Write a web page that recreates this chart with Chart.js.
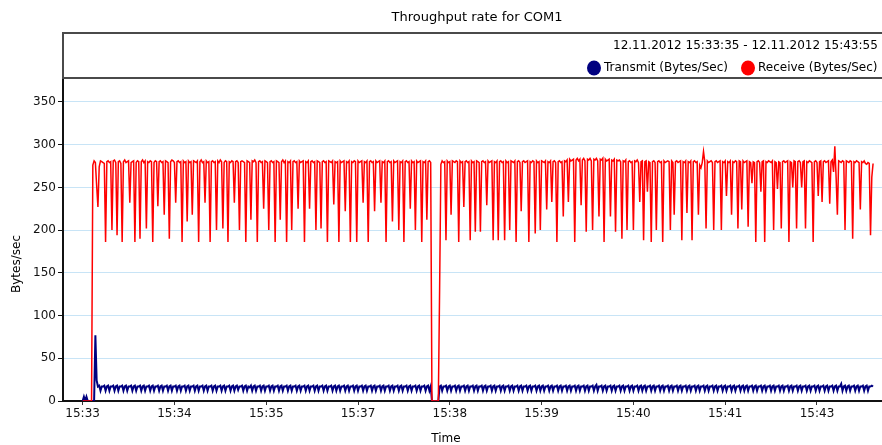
<!DOCTYPE html>
<html>
<head>
<meta charset="utf-8">
<title>Throughput rate for COM1</title>
<script src="https://cdn.jsdelivr.net/npm/chart.js@4.4.0/dist/chart.umd.min.js"></script>
<style>
  html, body { margin: 0; padding: 0; background: #fff; }
  #wrap { width: 882px; height: 445px; position: relative; }
</style>
</head>
<body>
<div id="wrap"><canvas id="rateChart"></canvas></div>
<script>
// chart texts
const chartTitle = 'Throughput rate for COM1';
const rangeText = '12.11.2012 15:33:35 - 12.11.2012 15:43:55';
const xTitle = 'Time';
const yTitle = 'Bytes/sec';

// x axis: seconds since 15:33:35, one tick every 72 s
const tickSeconds = [0, 72, 144, 216, 288, 360, 432, 504, 576];
const tickLabels = ['15:33', '15:34', '15:35', '15:37', '15:38', '15:39', '15:40', '15:41', '15:43'];
const yTicks = [0, 50, 100, 150, 200, 250, 300, 350];
const sampleSec = 1;

// Transmit (Bytes/Sec), one value per second
const txRate = [
  0,5,0,5,0,0,0,0,0,0,77,24,17,18,12,17,17,18,12,17,
  18,12,17,17,18,12,17,18,12,17,17,18,12,17,18,12,17,17,18,12,
  17,18,12,17,17,18,12,17,18,12,17,17,18,12,17,18,12,17,17,18,
  12,17,18,12,17,17,18,12,17,18,12,17,17,18,12,17,18,12,17,17,
  18,12,17,18,12,17,17,18,12,17,18,12,17,17,18,12,17,18,12,17,
  17,18,12,17,18,12,17,17,18,12,17,18,12,17,17,18,12,17,18,12,
  17,18,13,17,17,18,12,17,18,12,17,16,18,12,17,18,12,17,17,18,
  12,17,18,12,17,17,18,12,17,18,12,17,17,18,12,17,18,12,17,17,
  18,12,17,18,12,17,17,18,12,17,18,12,17,17,18,12,17,18,12,17,
  17,18,12,17,18,12,17,17,18,12,17,18,12,17,17,18,12,17,18,12,
  17,18,12,17,17,18,12,17,18,12,17,17,18,12,17,18,12,17,17,18,
  12,17,18,12,17,17,18,12,17,18,12,17,17,18,12,17,18,12,17,17,
  18,12,17,18,12,17,17,18,12,17,18,12,17,17,18,12,17,18,12,17,
  17,18,12,17,18,12,17,17,18,12,17,18,12,17,0,0,0,0,0,0,
  17,18,12,17,17,18,12,17,18,12,17,17,18,12,17,18,12,17,17,18,
  12,17,18,12,17,17,18,12,17,18,12,17,17,18,12,17,18,12,17,17,
  18,12,17,18,12,17,17,18,12,17,18,12,17,17,18,12,17,18,12,17,
  17,18,12,17,18,12,17,17,18,12,17,18,12,17,17,18,12,17,18,12,
  17,18,12,17,17,18,12,17,18,12,17,17,18,12,17,18,12,17,17,18,
  12,17,18,12,17,17,18,12,17,18,12,17,17,18,12,17,18,12,17,17,
  18,12,17,19,12,17,17,18,12,17,18,12,17,17,18,12,17,18,12,17,
  17,18,12,17,18,12,17,17,18,12,17,18,12,17,17,18,12,17,18,12,
  17,18,12,17,17,18,12,17,18,12,17,17,18,12,17,18,12,17,17,18,
  12,17,18,12,17,17,18,12,17,18,12,17,17,18,12,17,18,12,17,17,
  18,12,17,18,12,17,17,18,12,17,18,12,17,17,18,12,17,18,12,17,
  17,18,12,17,18,12,17,17,18,12,17,18,12,17,17,18,12,17,18,12,
  17,18,12,17,17,18,12,17,18,12,17,17,18,12,17,18,12,17,17,18,
  12,17,18,12,17,17,18,12,17,18,12,17,17,18,12,17,18,12,17,17,
  18,12,17,18,12,17,17,18,12,17,18,12,17,17,18,12,17,18,12,17,
  17,18,12,17,18,12,17,17,18,12,17,18,12,17,17,20,12,17,18,12,
  17,18,12,17,17,18,12,17,18,12,17,17,18,12,17,18,12,17,17,18,
  17
];

// Receive (Bytes/Sec), one value per second
const rxRate = [
  0,0,0,0,0,0,0,0,276,281,279,252,227,274,281,280,279,278,186,280,
  281,279,280,200,281,282,279,194,280,281,278,186,280,282,279,280,281,232,279,280,
  281,186,279,281,280,190,280,282,279,281,202,280,279,281,280,186,279,281,280,228,
  280,281,279,280,218,281,280,279,190,280,282,281,279,232,280,281,279,280,186,281,
  279,280,210,281,279,280,218,281,280,279,281,186,280,282,279,280,232,281,279,280,
  186,280,281,279,280,200,281,279,282,280,202,279,281,280,186,280,279,281,280,232,
  280,281,279,200,280,281,280,279,186,281,280,279,212,281,280,282,279,186,280,281,
  279,280,225,281,280,279,200,280,281,279,280,186,281,280,279,212,280,282,279,281,
  186,280,279,281,200,280,281,279,280,225,281,279,280,281,186,280,279,281,225,280,
  281,279,280,200,281,280,279,202,280,281,279,280,186,281,280,279,281,230,280,279,
  280,186,281,279,280,281,222,280,279,281,186,280,279,281,280,186,281,279,280,281,
  232,280,279,281,186,280,281,279,280,222,281,279,280,281,232,280,279,281,186,280,
  281,279,280,210,281,279,280,281,200,280,279,281,186,280,281,279,280,225,281,279,
  280,200,281,279,280,281,186,280,279,281,212,280,281,279,0,0,0,0,0,0,
  130,277,281,279,280,188,281,279,280,218,281,280,279,281,280,186,281,279,280,227,
  280,281,279,280,188,281,279,280,198,281,280,279,198,280,281,279,280,229,281,279,
  280,281,188,280,279,281,188,280,281,279,280,188,281,279,280,200,281,280,279,281,
  186,280,281,279,222,280,281,279,280,281,186,280,279,281,280,196,281,279,280,200,
  281,280,279,281,224,280,279,281,233,280,281,279,186,280,281,279,280,216,281,280,
  282,233,283,281,282,283,186,282,284,281,283,229,282,284,281,198,283,282,284,281,
  200,283,282,284,281,216,283,282,284,186,283,281,282,283,216,282,281,283,198,282,
  281,282,280,190,281,280,282,200,280,281,279,280,200,281,280,282,279,233,280,281,
  188,280,281,245,280,279,186,280,281,279,200,280,281,279,280,186,281,279,280,281,
  280,200,281,279,218,280,281,279,280,281,188,280,279,281,220,280,279,281,188,280,
  281,279,280,218,276,273,279,292,280,202,281,279,280,281,279,200,280,281,279,280,
  281,200,280,279,281,240,280,279,281,218,280,279,281,280,202,281,280,224,281,279,
  280,281,204,280,279,255,280,279,186,280,281,279,245,280,281,186,280,279,281,280,
  279,281,200,280,279,248,280,279,202,280,281,279,280,281,186,280,279,250,281,280,
  202,280,281,279,250,280,281,202,280,279,281,280,279,186,280,281,279,240,280,281,
  233,280,281,279,280,281,231,280,282,268,298,262,218,281,280,279,281,280,200,281,
  280,279,281,280,190,280,279,281,280,279,224,280,279,281,278,277,279,278,194,262,
  278
];

const txColor = '#000080';
const rxColor = '#ff0000';
const fontFamily = '"DejaVu Sans", sans-serif';

Chart.defaults.font.family = fontFamily;
Chart.defaults.font.size = 12;
Chart.defaults.color = '#111';

// header: title, framed box with time range and legend, axis titles
const headerBox = {
  id: 'headerBox',
  afterDraw(chart) {
    const ctx = chart.ctx;
    const area = chart.chartArea;
    ctx.save();

    ctx.fillStyle = '#000';
    ctx.font = '13px ' + fontFamily;
    ctx.textAlign = 'center';
    ctx.textBaseline = 'middle';
    ctx.fillText(chartTitle, 477, 18);

    ctx.strokeStyle = '#4a4a4a';
    ctx.lineWidth = 2;
    ctx.beginPath();
    ctx.moveTo(chart.width + 10, 33);
    ctx.lineTo(area.left, 33);
    ctx.lineTo(area.left, area.top);
    ctx.lineTo(chart.width + 10, area.top);
    ctx.stroke();

    ctx.font = '12px ' + fontFamily;
    ctx.textAlign = 'left';
    ctx.fillText(rangeText, 613, 46);

    const legendX = [587, 741];
    chart.data.datasets.forEach((ds, i) => {
      const x = legendX[i];
      ctx.fillStyle = ds.borderColor;
      ctx.beginPath();
      ctx.ellipse(x + 7, 68, 7, 7.5, 0, 0, Math.PI * 2);
      ctx.fill();
      ctx.fillStyle = '#000';
      ctx.fillText(ds.label, x + 17, 68);
    });

    ctx.textAlign = 'center';
    ctx.fillText(xTitle, 446, 439);
    ctx.translate(17, 264);
    ctx.rotate(-Math.PI / 2);
    ctx.fillText(yTitle, 0, 0);
    ctx.restore();
  }
};

const ctx = document.getElementById('rateChart').getContext('2d');
new Chart(ctx, {
  type: 'line',
  data: {
    datasets: [
      {
        label: 'Transmit (Bytes/Sec)',
        data: txRate.map((v, i) => ({ x: i * sampleSec, y: v })),
        borderColor: txColor,
        backgroundColor: txColor,
        borderWidth: 2,
        pointRadius: 0,
        tension: 0,
        order: 1
      },
      {
        label: 'Receive (Bytes/Sec)',
        data: rxRate.map((v, i) => ({ x: i * sampleSec, y: v })),
        borderColor: rxColor,
        backgroundColor: rxColor,
        borderWidth: 1.5,
        pointRadius: 0,
        tension: 0,
        order: 0
      }
    ]
  },
  options: {
    responsive: true,
    maintainAspectRatio: false,
    animation: false,
    layout: { padding: { top: 78, left: 0, right: 0, bottom: 0 } },
    plugins: {
      legend: { display: false },
      tooltip: { enabled: false },
      title: { display: false }
    },
    scales: {
      x: {
        type: 'linear',
        min: -15.4,
        max: 627,
        afterBuildTicks: scale => { scale.ticks = tickSeconds.map(v => ({ value: v })); },
        afterFit: scale => { scale.height = 44; },
        grid: { drawOnChartArea: false, drawTicks: true, tickLength: 4, tickColor: '#333' },
        border: { color: '#111', width: 2 },
        ticks: {
          padding: 2,
          maxRotation: 0,
          autoSkip: false,
          callback: (value, index) => tickLabels[index]
        }
      },
      y: {
        min: 0,
        max: 378,
        afterBuildTicks: scale => { scale.ticks = yTicks.map(v => ({ value: v })); },
        afterFit: scale => { scale.width = 63; },
        grid: { color: '#c8e4f6', tickColor: '#111', tickLength: 5 },
        border: { color: '#111', width: 2 },
        ticks: { padding: 2 }
      }
    }
  },
  plugins: [headerBox]
});
</script>
</body>
</html>
